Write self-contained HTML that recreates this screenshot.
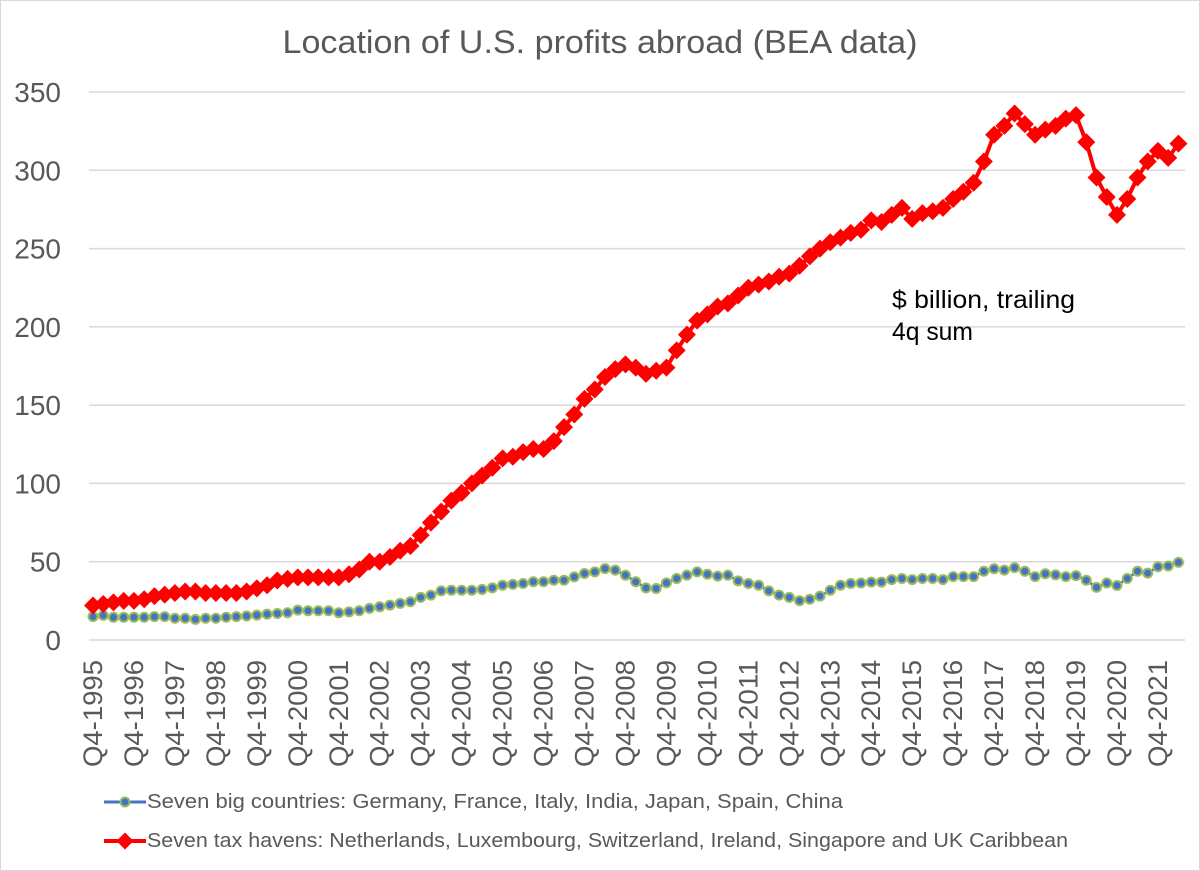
<!DOCTYPE html>
<html><head><meta charset="utf-8"><style>
html,body{margin:0;padding:0;background:#fff;}
svg{display:block;font-family:"Liberation Sans",sans-serif;}
</style></head><body>
<svg id="chart" width="1200" height="871" viewBox="0 0 1200 871">
<rect x="0.5" y="0.5" width="1199" height="870" fill="#fff" stroke="#d9d9d9"/>
<text x="600" y="53" text-anchor="middle" font-size="32" fill="#595959" textLength="635" lengthAdjust="spacingAndGlyphs">Location of U.S. profits abroad (BEA data)</text>
<g id="grid"></g>
<g id="yticks"></g>
<g id="xticks"></g>
<g id="series"></g>
<text font-size="25" fill="#000"><tspan x="892" y="308" textLength="183" lengthAdjust="spacingAndGlyphs">$ billion, trailing</tspan><tspan x="892" y="340" textLength="81" lengthAdjust="spacingAndGlyphs">4q sum</tspan></text>
<g>
 <g>
  <line x1="104" y1="802" x2="146" y2="802" stroke="#4472C4" stroke-width="3"/>
  <circle cx="125" cy="802" r="4.5" fill="#4472C4" stroke="#9BBB59" stroke-width="2"/>
  <text x="147" y="808" font-size="20" fill="#595959" textLength="696" lengthAdjust="spacingAndGlyphs">Seven big countries: Germany, France, Italy, India, Japan, Spain, China</text>
 </g>
 <g>
  <line x1="104" y1="841" x2="146" y2="841" stroke="#FF0000" stroke-width="4"/>
  <rect x="119" y="835" width="12" height="12" fill="#FF0000" transform="rotate(45 125 841)"/>
  <text x="147" y="847" font-size="20" fill="#595959" textLength="921" lengthAdjust="spacingAndGlyphs">Seven tax havens: Netherlands, Luxembourg, Switzerland, Ireland, Singapore and UK Caribbean</text>
 </g>
</g>
</svg>
<script>
const yTicks = [0,50,100,150,200,250,300,350];
const xLabels = ["Q4-1995","Q4-1996","Q4-1997","Q4-1998","Q4-1999","Q4-2000","Q4-2001","Q4-2002","Q4-2003","Q4-2004","Q4-2005","Q4-2006","Q4-2007","Q4-2008","Q4-2009","Q4-2010","Q4-2011","Q4-2012","Q4-2013","Q4-2014","Q4-2015","Q4-2016","Q4-2017","Q4-2018","Q4-2019","Q4-2020","Q4-2021"];
const bigCountries = [14.9,15.7,14.5,14.5,14.5,14.5,14.9,14.9,13.9,13.9,13.2,13.9,13.9,14.5,14.9,15.3,15.9,16.5,16.9,17.4,19.1,18.7,18.7,18.7,17.4,18.0,18.7,20.2,21.2,22.3,23.4,24.4,27.2,28.7,31.4,31.8,31.8,31.8,
32.3,33.3,35.0,35.5,36.1,37.2,37.2,38.2,38.2,40.3,42.5,43.5,45.6,44.6,41.4,37.2,33.3,32.9,36.5,39.3,41.4,43.5,42.0,40.8,41.4,37.8,36.1,35.0,31.4,28.7,27.2,25.1,26.0,28.0,31.8,35.0,36.1,
36.4,37.0,37.0,38.6,39.3,38.6,39.3,39.3,38.6,40.5,40.5,40.5,43.9,45.5,44.6,46.2,43.9,40.5,42.3,41.6,40.5,41.1,38.2,33.6,36.4,34.8,39.3,43.9,42.7,46.8,47.3,49.6];
const taxHavens = [22,23,24,25,25,26,28,29,30,31,31,30,30,30,30,31,33,35,38,39,40,40,40,40,40,42,45,50,50,53,57,60,67,75,82,89,94,100,
105,110,116,117,120,122,122,127,136,144,154,160,168,173,176,174,170,172,174,185,195,204,208,213,215,220,225,227,229,232,234,239,245,250,254,257,260,
262,268,267,271.5,276,269,272.6,273.8,276,281.7,286.3,292,305.6,322.7,328.4,336.3,329.5,322.7,326,328.4,333,335.2,318,295.4,282.9,271.5,281.7,295.4,305.6,312.4,307.9,317];

const NS="http://www.w3.org/2000/svg";
const X0=93, DX=10.24, Y0=640, YS=548/350;
function xPos(i){return X0+DX*i;}
function yPos(v){return Y0-v*YS;}
function mk(tag,attrs,parent){const e=document.createElementNS(NS,tag);for(const k in attrs)e.setAttribute(k,attrs[k]);parent.appendChild(e);return e;}

const grid=document.getElementById('grid'), yt=document.getElementById('yticks'), xt=document.getElementById('xticks'), ser=document.getElementById('series');
yTicks.forEach(v=>{
  const l=mk('line',{x1:89,x2:1185,y1:yPos(v),y2:yPos(v),stroke:'#d9d9d9','stroke-width':1.5},grid);
  
  
  const t=mk('text',{x:61,y:yPos(v)+10,'text-anchor':'end','font-size':28,fill:'#595959'},yt);
  t.textContent=v;
  
  
});
xLabels.forEach((s,k)=>{
  const x=xPos(k*4)+9;
  const t=mk('text',{x:x,y:660,'text-anchor':'end','font-size':27,fill:'#595959',textLength:107,lengthAdjust:'spacingAndGlyphs',transform:`rotate(-90 ${x} 660)`},xt);
  t.textContent=s;
  
  
});
let pts=bigCountries.map((v,i)=>xPos(i).toFixed(1)+','+yPos(v).toFixed(1)).join(' ');
const gl=mk('polyline',{points:pts,fill:'none',stroke:'#4472C4','stroke-width':2.5},ser);


bigCountries.forEach((v,i)=>{
  const c=mk('circle',{cx:xPos(i),cy:yPos(v),r:4.5,fill:'#4472C4',stroke:'#9BBB59','stroke-width':2},ser);
  
  
});
pts=taxHavens.map((v,i)=>xPos(i).toFixed(1)+','+yPos(v).toFixed(1)).join(' ');
const rl=mk('polyline',{points:pts,fill:'none',stroke:'#FF0000','stroke-width':4},ser);


taxHavens.forEach((v,i)=>{
  const x=xPos(i), y=yPos(v);
  const d=mk('polygon',{points:`${x},${y-9} ${x+9},${y} ${x},${y+9} ${x-9},${y}`,fill:'#FF0000'},ser);
  
  
});
</script>
</body></html>
